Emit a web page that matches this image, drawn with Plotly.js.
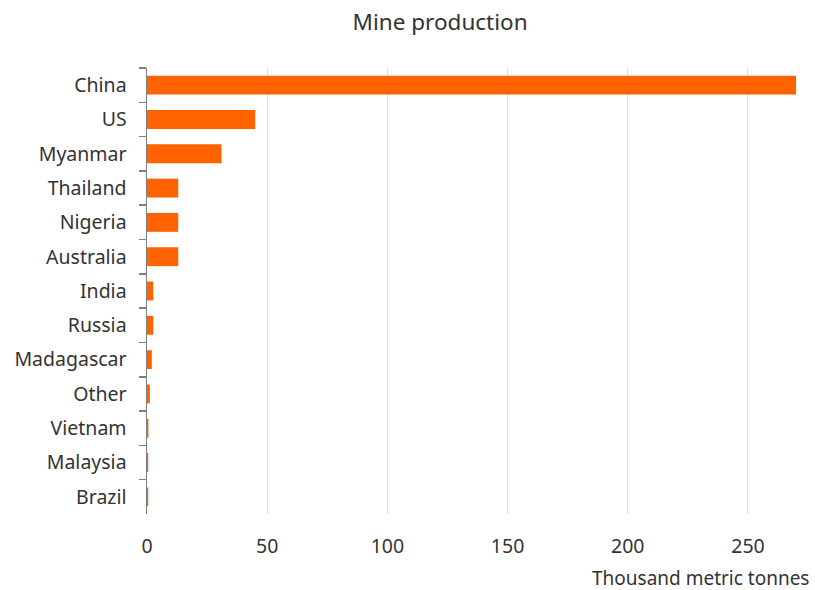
<!DOCTYPE html>
<html>
<head>
<meta charset="utf-8">
<script src="https://cdn.plot.ly/plotly-3.0.1.min.js"></script>
<style>
  html, body { margin: 0; padding: 0; background: #fff; }
  #chart { width: 815px; height: 590px; }
</style>
</head>
<body>
<div id="chart"></div>
<script>
// Mine production by country, thousand metric tonnes
const countries = ["China", "US", "Myanmar", "Thailand", "Nigeria", "Australia",
  "India", "Russia", "Madagascar", "Other", "Vietnam", "Malaysia", "Brazil"];
const production = [270, 45, 31, 13, 13, 13, 2.6, 2.6, 2.0, 1.2, 0.6, 0.5, 0.5];
const xTicks = [0, 50, 100, 150, 200, 250];

const font = "Noto Sans, sans-serif";
const textColor = "#333333";

const trace = {
  type: "bar",
  orientation: "h",
  y: countries,
  x: production,
  marker: { color: "#FF6200", line: { width: 0 } },
  hoverinfo: "x+y"
};

const layout = {
  width: 815,
  height: 590,
  margin: { l: 147, r: 5, t: 68, b: 76 },
  paper_bgcolor: "#ffffff",
  plot_bgcolor: "#ffffff",
  font: { family: font, color: textColor, size: 19.5 },
  showlegend: false,
  bargap: 0.45,
  title: {
    text: "Mine production",
    font: { family: font, size: 22.5, color: textColor },
    x: 0.54, xanchor: "center",
    y: 0.962, yanchor: "middle"
  },
  xaxis: {
    range: [0, 275.8],
    tickvals: xTicks,
    ticktext: xTicks.map(String),
    showgrid: true,
    gridcolor: "#dddddd",
    gridwidth: 1,
    zeroline: false,
    showline: false,
    ticks: "",
    ticklabelstandoff: 18,
    tickfont: { family: font, size: 19.5, color: textColor }
  },
  yaxis: {
    type: "category",
    autorange: "reversed",
    showline: true,
    linecolor: "#7f7f7f",
    linewidth: 1.5,
    ticks: "outside",
    tickson: "boundaries",
    ticklen: 7,
    tickcolor: "#7f7f7f",
    tickwidth: 1.5,
    showgrid: false,
    zeroline: false,
    ticklabelstandoff: 15,
    tickfont: { family: font, size: 19.5, color: textColor }
  },
  annotations: [{
    text: "Thousand metric tonnes",
    xref: "paper", yref: "paper",
    x: 1, y: 0,
    xanchor: "right", yanchor: "middle",
    xshift: 1, yshift: -64,
    showarrow: false,
    font: { family: font, size: 19, color: textColor }
  }]
};

Plotly.newPlot("chart", [trace], layout, { displayModeBar: false, staticPlot: true });
</script>
</body>
</html>
